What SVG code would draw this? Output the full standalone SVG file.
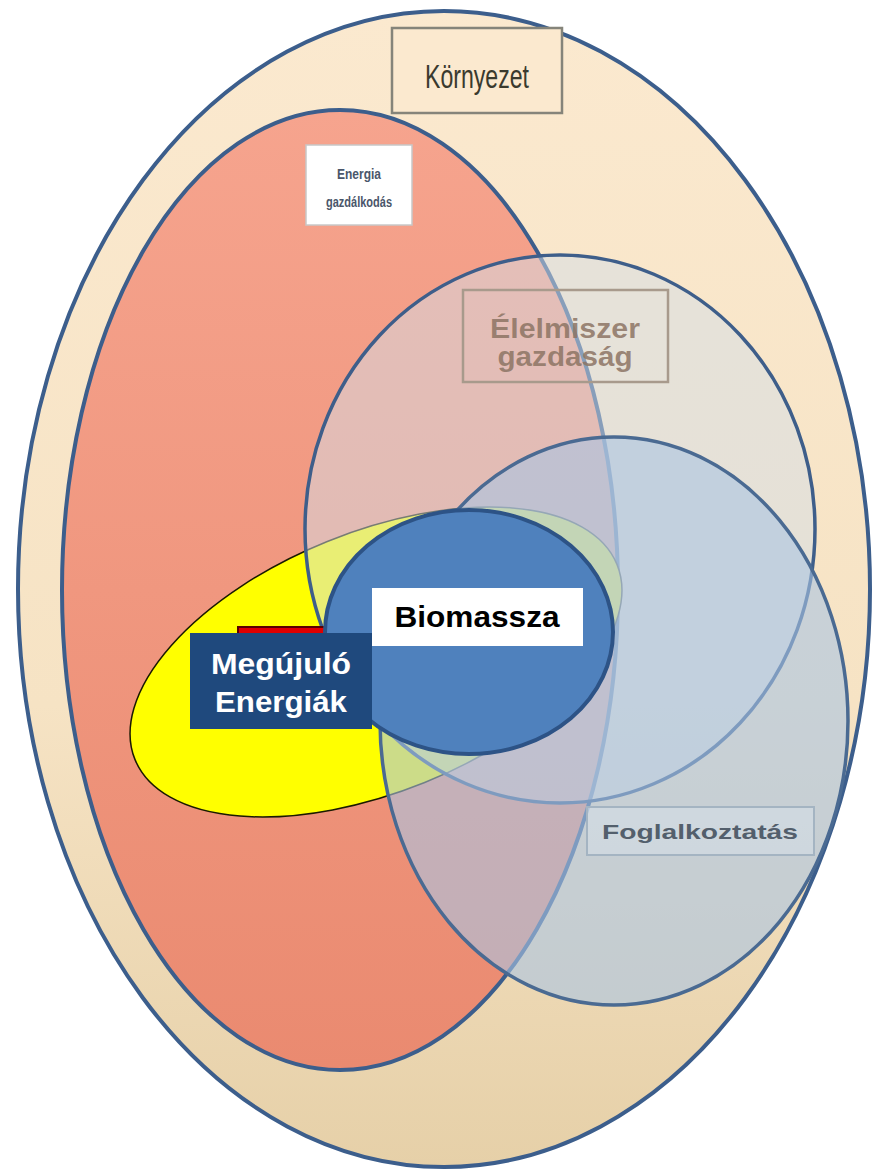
<svg xmlns="http://www.w3.org/2000/svg" width="875" height="1169" viewBox="0 0 875 1169">
  <defs>
    <linearGradient id="gOuter" x1="0" y1="0" x2="0" y2="1">
      <stop offset="0" stop-color="#fbe9cf"/>
      <stop offset="0.6" stop-color="#f6e3c4"/>
      <stop offset="1" stop-color="#e6d0a8"/>
    </linearGradient>
    <linearGradient id="gRed" x1="0" y1="0" x2="0" y2="1">
      <stop offset="0" stop-color="#f6a48e"/>
      <stop offset="1" stop-color="#ea8a70"/>
    </linearGradient>
    <style>
      .ring{stroke:#3c5e8c;stroke-width:4}
      .lbl{font-family:"Liberation Sans",Arial,sans-serif;text-anchor:middle}
      .bold{font-weight:bold}
    </style>
  </defs>
  <rect width="875" height="1169" fill="#ffffff"/>

  <g id="kornyezet">
    <ellipse cx="444" cy="589" rx="426" ry="578" fill="url(#gOuter)" class="ring"/>
  </g>

  <g id="energia">
    <ellipse cx="340" cy="590" rx="278" ry="480" fill="url(#gRed)" class="ring"/>
  </g>

  <g id="megujulo-ellipse">
    <ellipse cx="376" cy="662" rx="260" ry="130" transform="rotate(-22 376 662)" fill="#ffff00" stroke="#1a1a00" stroke-width="1.5"/>
  </g>

  <g id="elelmiszer">
    <ellipse cx="560" cy="529" rx="255" ry="274" fill="#d4dee8" fill-opacity="0.5" stroke="#3e5e8a" stroke-width="3.5"/>
  </g>

  <g id="foglalkoztatas">
    <ellipse cx="614" cy="721" rx="234" ry="284" fill="#aac4e2" fill-opacity="0.6" stroke="#4a6a92" stroke-width="3.5"/>
  </g>

  <g id="small-red">
    <rect x="238" y="627" width="90" height="40" fill="#e00000" stroke="#5a0000" stroke-width="2"/>
  </g>

  <g id="biomassza">
    <ellipse cx="469" cy="632" rx="144" ry="122" fill="#4f81bd" stroke="#2d5386" stroke-width="4"/>
  </g>

  <g id="label-kornyezet">
    <rect x="392" y="28" width="170" height="85" fill="#fbe9cf" stroke="#85847a" stroke-width="2.5"/>
    <text x="477" y="88" class="lbl" font-size="34" fill="#3a3a2e" textLength="104" lengthAdjust="spacingAndGlyphs">Környezet</text>
  </g>

  <g id="label-energia">
    <rect x="306" y="145" width="106" height="80" fill="#ffffff" stroke="#c8c8c8" stroke-width="1.5"/>
    <text x="359" y="179" class="lbl bold" font-size="14" fill="#4a566a" textLength="44" lengthAdjust="spacingAndGlyphs">Energia</text>
    <text x="359" y="207" class="lbl bold" font-size="14" fill="#4a566a" textLength="66" lengthAdjust="spacingAndGlyphs">gazdálkodás</text>
  </g>

  <g id="label-elelmiszer">
    <rect x="463" y="290" width="205" height="92" fill="none" stroke="#a89a8c" stroke-width="2.5"/>
    <text x="565" y="338" class="lbl bold" font-size="27" fill="#8c7464" fill-opacity="0.85" textLength="150" lengthAdjust="spacingAndGlyphs">Élelmiszer</text>
    <text x="565" y="366" class="lbl bold" font-size="27" fill="#8c7464" fill-opacity="0.85" textLength="135" lengthAdjust="spacingAndGlyphs">gazdaság</text>
  </g>

  <g id="label-foglalkoztatas">
    <rect x="587" y="807" width="227" height="48" fill="#d4dee6" fill-opacity="0.6" stroke="#a4b4c2" stroke-width="2"/>
    <text x="700" y="839" class="lbl bold" font-size="21" fill="#535f6c" textLength="196" lengthAdjust="spacingAndGlyphs">Foglalkoztatás</text>
  </g>

  <g id="label-megujulo">
    <rect x="190" y="633" width="182" height="96" fill="#1f497d"/>
    <text x="281" y="674" class="lbl bold" font-size="30" fill="#ffffff" textLength="140" lengthAdjust="spacingAndGlyphs">Megújuló</text>
    <text x="281" y="712" class="lbl bold" font-size="30" fill="#ffffff" textLength="132" lengthAdjust="spacingAndGlyphs">Energiák</text>
  </g>

  <g id="label-biomassza">
    <rect x="372" y="588" width="211" height="58" fill="#ffffff"/>
    <text x="477" y="627" class="lbl bold" font-size="30" fill="#000000" textLength="165" lengthAdjust="spacingAndGlyphs">Biomassza</text>
  </g>
</svg>
